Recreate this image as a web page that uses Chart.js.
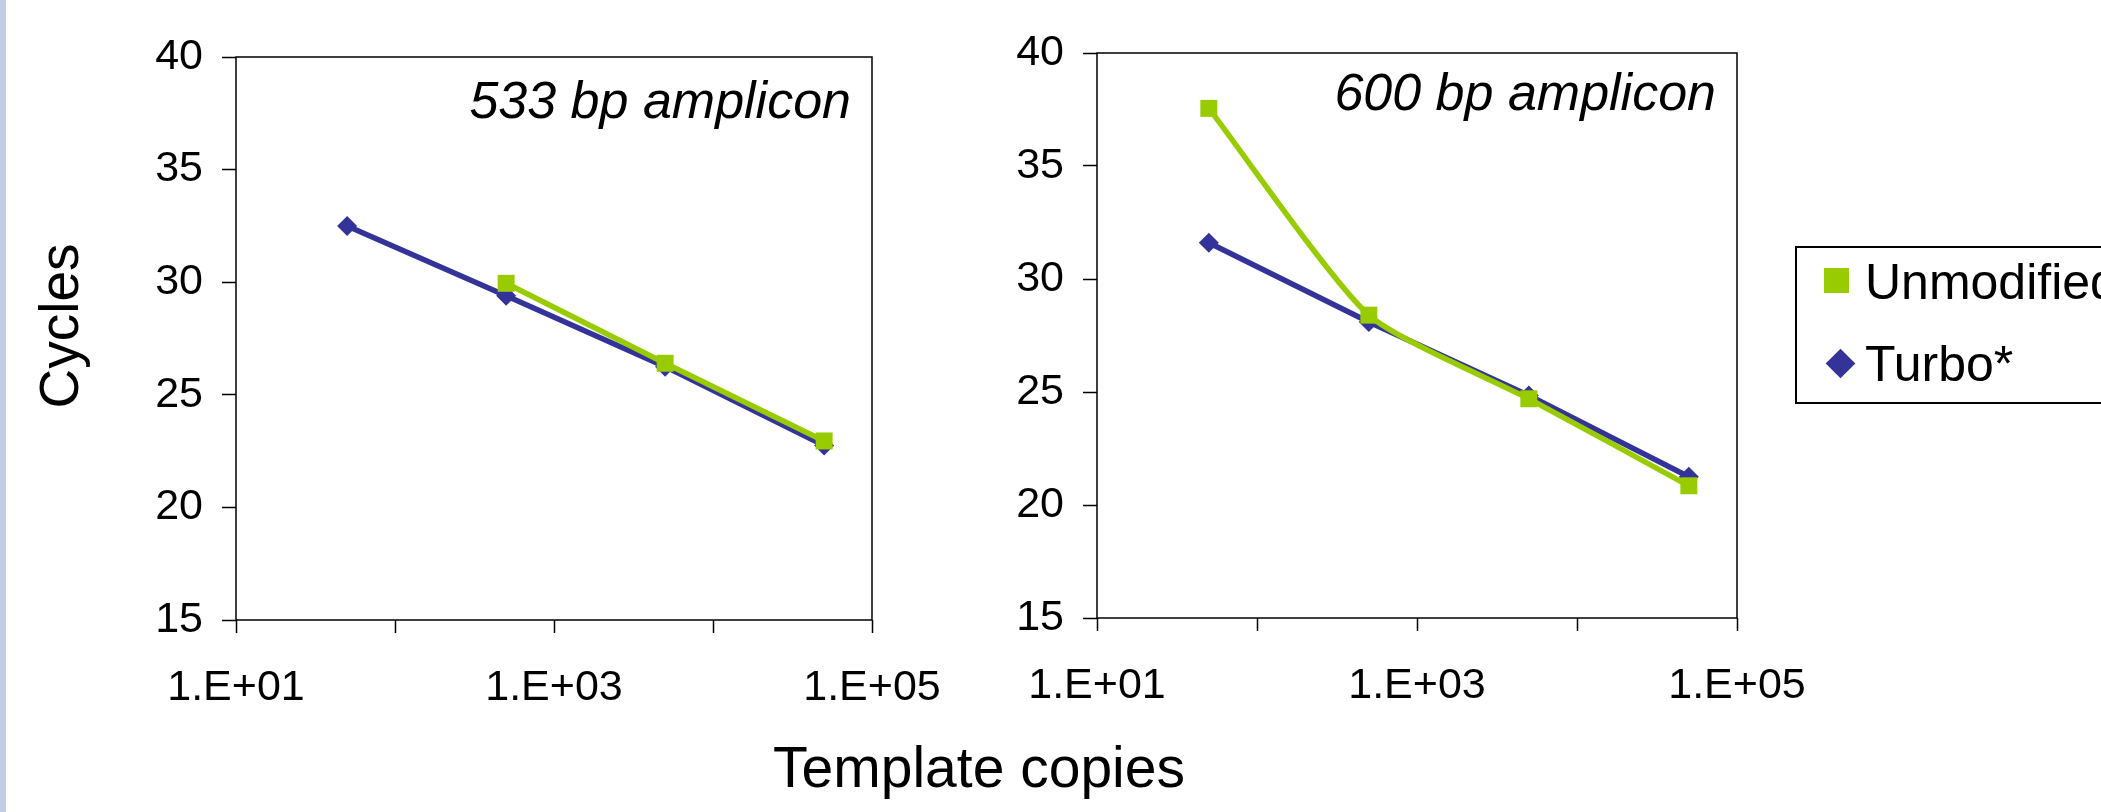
<!DOCTYPE html>
<html>
<head>
<meta charset="utf-8">
<script src="https://cdn.jsdelivr.net/npm/chart.js@4.4.1/dist/chart.umd.min.js"></script>
<style>
  body { margin: 0; background: #fff; font-family: "Liberation Sans", Arial, sans-serif; }
  #page { position: relative; width: 2101px; height: 812px; overflow: hidden; background: #fff; }
  #stripe { position: absolute; left: 0; top: 0; width: 6px; height: 812px; background: #c0cfe6; }
  canvas { position: absolute; top: 0; }
  #chart533 { left: 100px; }
  #chart600 { left: 960px; }
  .axis-title { position: absolute; font-size: 55px; line-height: 1; color: #000; white-space: nowrap; }
  #ytitle { left: 59px; top: 326px; transform: translate(-50%, -50%) rotate(-90deg); }
  #xtitle { left: 979px; top: 739px; font-size: 57px; transform: translateX(-50%); }
  #legend { position: absolute; left: 1795px; top: 246px; width: 400px; height: 154px; border: 2.5px solid #000; background: #fff; z-index: 2; }
  .leg-text { position: absolute; font-size: 50px; line-height: 1; color: #000; white-space: nowrap; }
  #leg-square { position: absolute; left: 27px; top: 20px; width: 25px; height: 25px; background: #99cc00; }
  #leg-diamond { position: absolute; left: 33px; top: 105px; width: 21px; height: 21px; background: #333399; transform: rotate(45deg); }
</style>
</head>
<body>
<div id="page">
  <div id="stripe"></div>
  <canvas id="chart533" width="882" height="760"></canvas>
  <canvas id="chart600" width="887" height="760"></canvas>
  <div class="axis-title" id="ytitle">Cycles</div>
  <div class="axis-title" id="xtitle">Template copies</div>
  <div id="legend">
    <div id="leg-square"></div>
    <div class="leg-text" style="left:68px; top:9px;">Unmodified</div>
    <div id="leg-diamond"></div>
    <div class="leg-text" style="left:68px; top:91px;">Turbo*</div>
  </div>
</div>
<script>
// template copies on the x axis (log scale)
const copies = [50, 500, 5000, 50000];
const xTicks = [10, 100, 1000, 10000, 100000];
const yMin = 15;
const yMax = 40;
const yStep = 5;

// cycles
const unmodified533 = [null, 29.95, 26.4, 22.95];
const turbo533 = [32.5, 29.4, 26.25, 22.75];
const unmodified600 = [37.55, 28.4, 24.7, 20.85];
const turbo600 = [31.6, 28.1, 24.85, 21.25];

const green = "#99cc00";
const blue = "#333399";
const fontFamily = "'Liberation Sans', Arial, sans-serif";

function toPoints(values) {
  let points = [];
  for (let i = 0; i < copies.length; i++) {
    if (values[i] !== null) points.push({ x: copies[i], y: values[i] });
  }
  return points;
}

// box around the plot area + the italic label in the top right corner
const frameAndLabel = {
  id: "frameAndLabel",
  afterDraw(chart, args, opts) {
    const a = chart.chartArea;
    const ctx = chart.ctx;
    ctx.save();
    ctx.strokeStyle = "#000";
    ctx.lineWidth = 1.5;
    ctx.strokeRect(a.left, a.top, a.right - a.left, a.bottom - a.top);
    ctx.fillStyle = "#000";
    ctx.font = "italic 52px " + fontFamily;
    ctx.textAlign = "right";
    ctx.textBaseline = "alphabetic";
    ctx.fillText(opts.text, a.right - 21, a.top + opts.baseline);
    ctx.restore();
  },
};

function createChart(id, unmodified, turbo, greenTension, plot) {
  const canvas = document.getElementById(id);
  const config = {
    type: "line",
    data: {
      datasets: [
        {
          label: "Unmodified",
          data: toPoints(unmodified),
          borderColor: green,
          backgroundColor: green,
          borderWidth: 5.5,
          tension: greenTension,
          pointStyle: "rect",
          pointRadius: 12,
          pointBorderWidth: 0,
        },
        {
          label: "Turbo*",
          data: toPoints(turbo),
          borderColor: blue,
          backgroundColor: blue,
          borderWidth: 5.5,
          tension: 0,
          pointStyle: "rectRot",
          pointRadius: 10,
          pointBorderWidth: 0,
        },
      ],
    },
    options: {
      responsive: false,
      animation: false,
      devicePixelRatio: 1,
      layout: {
        padding: {
          left: 0,
          top: plot.top,
          right: canvas.width - plot.right,
          bottom: canvas.height - plot.bottom - 100,
        },
      },
      plugins: {
        legend: { display: false },
        tooltip: { enabled: false },
        frameAndLabel: { text: plot.label, baseline: plot.baseline },
      },
      scales: {
        x: {
          type: "logarithmic",
          min: xTicks[0],
          max: xTicks[xTicks.length - 1],
          afterBuildTicks: (scale) => {
            scale.ticks = xTicks.map((v) => ({ value: v }));
          },
          afterFit: (scale) => {
            scale.height = 100;
          },
          border: { display: false },
          grid: {
            drawOnChartArea: false,
            drawTicks: true,
            tickLength: 13,
            tickColor: "#000",
            tickWidth: 1.5,
          },
          ticks: {
            autoSkip: false,
            maxRotation: 0,
            padding: 29,
            color: "#000",
            font: { family: fontFamily, size: 43 },
            callback: (value, index) => {
              if (index % 2 !== 0) return "";
              return "1.E+" + String(Math.round(Math.log10(value))).padStart(2, "0");
            },
          },
        },
        y: {
          min: yMin,
          max: yMax,
          afterFit: (scale) => {
            scale.width = plot.left;
          },
          border: { display: false },
          grid: {
            drawOnChartArea: false,
            drawTicks: true,
            tickLength: 14,
            tickColor: "#000",
            tickWidth: 1.5,
          },
          ticks: {
            stepSize: yStep,
            padding: 19,
            color: "#000",
            font: { family: fontFamily, size: 43 },
          },
        },
      },
    },
    plugins: [frameAndLabel],
  };
  return new Chart(canvas, config);
}

// plot areas in canvas coordinates
createChart("chart533", unmodified533, turbo533, 0, {
  left: 136, top: 57, right: 772, bottom: 620, label: "533 bp amplicon", baseline: 61,
});
createChart("chart600", unmodified600, turbo600, 0.2, {
  left: 137, top: 53, right: 777, bottom: 618, label: "600 bp amplicon", baseline: 57,
});
</script>
</body>
</html>
